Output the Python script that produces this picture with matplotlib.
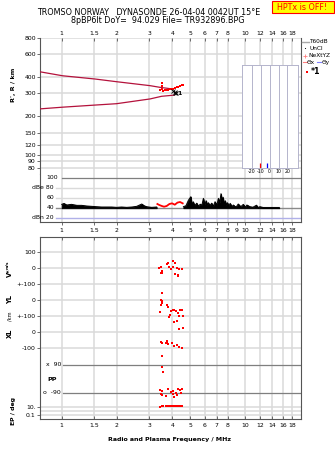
import numpy as np
import matplotlib
matplotlib.use("Agg")
import matplotlib.pyplot as plt
from matplotlib import transforms as mtransforms
from matplotlib.patches import Rectangle
from matplotlib.lines import Line2D

plt.rcParams['font.family'] = ['DejaVu Sans']

W, H, DPI = 335, 451, 100

# ---------------- data ----------------
freq_ticks = [1, 1.5, 2, 3, 4, 5, 6, 7, 8, 10, 12, 14, 16, 18]
freq_ticks_db = [1, 1.5, 2, 3, 4, 5, 6, 7, 8, 9, 10, 12, 14, 16, 18]
F_MIN, F_MAX = 0.762, 20.1

height_ticks = [80, 90, 100, 120, 150, 200, 300, 400, 600, 800]

# model traces (virtual / real height)
upper_f = [0.76, 1.01, 1.52, 1.99, 3.03, 3.43, 4.04]
upper_h = [440, 410, 387, 369, 344, 334, 324]
lower_f = [0.76, 1.01, 1.52, 1.99, 3.03, 3.50, 4.10]
lower_h = [228, 235, 244, 250, 272, 285, 291]

# echoes
echo_f = [3.43, 3.51, 3.51, 3.51, 3.58, 3.66, 3.73, 3.81, 3.89, 3.97, 4.06, 4.14, 4.23, 4.32, 4.41, 4.50, 4.56]
echo_h = [318, 360, 345, 325, 315, 317, 318, 320, 322, 324, 325, 330, 334, 338, 342, 347, 351]
uncl_f = [4.03, 4.12, 4.20, 4.13]
uncl_h = [312, 308, 304, 300]

# amplitude (dB)
amp_f1 = [1.0, 1.03, 1.065, 1.13, 1.21, 1.285, 1.37, 1.46, 1.55, 1.65, 1.76, 1.87, 1.99,
          2.12, 2.26, 2.41, 2.56, 2.73, 2.81, 2.90, 3.09, 3.29]
amp_v1 = [46.7, 48.5, 45.4, 46.7, 44.7, 44.7, 43.4, 42.7, 42.0, 41.4, 41.4, 41.4, 40.7,
          41.4, 40.7, 41.4, 42.7, 47.4, 44.0, 42.0, 40.7, 41.4]
amp_f_red = [3.32, 3.40, 3.51, 3.61, 3.73, 3.86, 3.99, 4.13, 4.27, 4.41, 4.56]
amp_v_red = [47.4, 45.4, 43.4, 42.0, 43.4, 47.4, 48.7, 46.0, 50.2, 51.4, 48.7]
amp_f2 = [4.6, 4.75, 4.9, 5.05, 5.12, 5.2, 5.3, 5.44, 5.55, 5.68, 5.8, 5.91, 6.0, 6.12, 6.2,
          6.29, 6.4, 6.56, 6.7, 6.84, 7.0, 7.13, 7.25, 7.37, 7.47, 7.56, 7.67, 7.77, 7.88,
          7.99, 8.13, 8.27, 8.45, 8.6, 8.9, 9.15, 9.45, 9.75, 10.0, 10.2, 10.6, 11.0, 11.3,
          11.5, 11.7, 12.0, 12.5, 13.0, 14.0, 15.3]
amp_v2 = [42, 44, 55, 62, 46, 52, 44, 49, 43, 47, 45, 58.7, 46, 54, 45,
          50, 44, 49, 43, 52, 45, 58.7, 50, 68, 55, 61, 47, 54, 45,
          50, 43, 48.7, 42, 45.4, 41, 47.4, 42, 46.7, 41, 45.4, 42, 41, 43.4,
          45, 40.5, 42, 40.5, 40.5, 40.5, 40.5]

# velocity / location / polarisation
v_f = [3.40, 3.48, 3.51, 3.48, 3.53, 3.73, 3.78, 3.84, 4.06, 4.13, 4.03, 3.94, 4.23, 4.37, 4.54, 4.14, 4.29, 4.29]
v_ms = [-2, 8, -17, -33, -33, 25, 33, 8, 46, 33, 8, -8, 0, -8, -4, -36, -42, -50]

yl_f = [3.51, 3.48, 3.53, 3.46, 3.43, 3.53, 3.73, 3.78, 3.84, 3.88, 4.03, 4.10, 4.20, 4.30, 4.41, 4.52, 3.94, 4.35, 4.58]
yl_km = [46, 0, -4, -31, -73, -21, -31, -42, -104, -94, -62, -62, -71, -79, -62, -62, -71, -100, -100]

xl_f = [4.10, 4.26, 4.35, 4.56, 3.48, 3.53, 3.68, 3.76, 3.81, 3.97, 4.10, 4.27, 4.37, 4.50, 3.73]
xl_km = [64, 71, 19, 25, -61, -71, -71, -61, -75, -71, -88, -81, -92, -102, -54]

ep_f = [3.51, 3.52, 3.55, 3.43, 3.51, 3.48, 3.53, 3.71, 3.81, 3.94, 4.06, 4.20, 4.32, 4.41, 4.54, 4.03, 4.27, 4.10, 4.45]
ep_deg = [150, 79, 43, -71, -75, -96, -103, -109, -66, -82, -75, -88, -66, -71, -66, -96, -103, -118, -92]

pp_f = [3.43, 3.51, 3.57, 3.68, 3.78, 3.89, 3.99, 4.10, 4.20, 4.30, 4.41, 4.52]
pp_val = [10, 13, 13, 13, 14, 13, 12, 13, 14, 16, 13, 13]

tilt_x, tilt_y = -11.0, -3.5

# ---------------- styling ----------------
GRID = '#dadada'
SPINE = '#555555'
DARK = '#7f7f7f'
RED = '#ff0000'
TRACE = '#b4123c'
TS = 4.4

fig = plt.figure(figsize=(W / DPI, H / DPI), dpi=DPI)


def rect(x0, y0, x1, y1):
    return [x0 / W, 1 - y1 / H, (x1 - x0) / W, (y1 - y0) / H]


def ftext(x, y, s, **kw):
    kw.setdefault('fontsize', TS)
    kw.setdefault('va', 'center')
    return fig.text(x / W, 1 - y / H, s, **kw)


def fmt(v):
    return ('%g' % v)


def freq_axis(ax, ticks):
    ax.set_xscale('log')
    ax.set_xlim(F_MIN, F_MAX)
    ax.set_xticks(ticks)
    ax.set_xticklabels([fmt(t) for t in ticks])
    ax.xaxis.set_minor_locator(matplotlib.ticker.NullLocator())
    for t in freq_ticks:
        ax.axvline(t, color=GRID, lw=1.1, zorder=0)
    for s in ax.spines.values():
        s.set_color(SPINE)
        s.set_linewidth(0.8)


# ---------------- height panel ----------------
ax_r = fig.add_axes(rect(40, 38, 301, 174))
freq_axis(ax_r, freq_ticks)
ax_r.set_yscale('log')
ax_r.set_ylim(72, 800)
ax_r.set_yticks(height_ticks)
ax_r.set_yticklabels([str(h) for h in height_ticks])
ax_r.yaxis.set_minor_locator(matplotlib.ticker.NullLocator())
for h in height_ticks:
    ax_r.axhline(h, color=GRID, lw=1.1, zorder=0)
ax_r.spines['top'].set_visible(False)
ax_r.spines['bottom'].set_visible(False)
ax_r.tick_params(axis='x', top=True, bottom=False, labeltop=True, labelbottom=False,
                 direction='in', length=2.5, width=0.6, color=SPINE, pad=1.5, labelsize=TS)
ax_r.tick_params(axis='y', direction='out', length=2, width=0.6, color=SPINE, pad=1, labelsize=TS)

ax_r.plot(upper_f, upper_h, color=TRACE, lw=0.9, zorder=3)
ax_r.plot(lower_f, lower_h, color=TRACE, lw=0.9, zorder=3)
ax_r.plot(echo_f, echo_h, 's', color=RED, ms=1.5, mew=0, zorder=4)
ax_r.plot(uncl_f, uncl_h, 'x', color='black', ms=2.2, mew=0.6, zorder=5)
ax_r.annotate('1', (uncl_f[0], uncl_h[0]), xytext=(3, -2), textcoords='offset points',
              fontsize=4.5, fontweight='bold', va='center')

# tilt inset
ax_t = fig.add_axes(rect(241.7, 65, 297.7, 168.3))
ax_t.set_facecolor('white')
ax_t.set_xlim(-31.5, 31.5)
ax_t.set_ylim(0, 1)
for s in ax_t.spines.values():
    s.set_color('#b4b4cc')
    s.set_linewidth(0.7)
for t in [-20, -10, 0, 10, 20]:
    ax_t.axvline(t, color='#b4b4cc', lw=0.7)
ax_t.set_xticks([-20, -10, 0, 10, 20])
ax_t.set_xticklabels(['-20', '-10', '0', '10', '20'])
ax_t.set_yticks([])
ax_t.tick_params(axis='x', length=0, pad=0.6, labelsize=3.4)
ax_t.set_xlabel('Tilt / deg', fontsize=3.4, labelpad=0.2)
ax_t.vlines([tilt_x], 0, 0.05, color=RED, lw=0.9)
ax_t.vlines([tilt_y], 0, 0.05, color='#0000ff', lw=0.9)

# ---------------- amplitude panel ----------------
ax_db = fig.add_axes(rect(40, 174, 301, 222))
freq_axis(ax_db, freq_ticks_db)
ax_db.set_ylim(11.4, 107.4)
ax_db.set_yticks([])
ax_db.spines['top'].set_visible(False)
ax_db.tick_params(axis='x', direction='out', length=2.5, width=0.6, color=SPINE, pad=1.5, labelsize=TS)
x_in = (56 - 40) / 261
for lvl, c in [(80, GRID), (60, GRID), (40, '#8a8a8a'), (20, '#b0b0e8')]:
    ax_db.axhline(lvl, xmin=x_in, color=c, lw=1.0, zorder=0.5)
ax_db.axhline(100, xmin=(62 - 40) / 261, color=DARK, lw=0.9, zorder=0.5)
blend = mtransforms.blended_transform_factory(ax_db.transAxes, ax_db.transData)
for lvl, lab, xr in [(100, '100', 58), (80, 'dBe 80', 54), (60, '60', 54), (40, '40', 54), (20, 'dBn 20', 54)]:
    ax_db.text((xr - 40) / 261, lvl, lab, transform=blend, ha='right', va='center', fontsize=TS)

ax_db.fill_between(amp_f1, 39, amp_v1, color='black', lw=0.6, zorder=3)
ax_db.plot(amp_f1, amp_v1, color='black', lw=0.7, zorder=3)
ax_db.fill_between(amp_f2, 39, amp_v2, color='black', lw=0.6, zorder=3)
ax_db.plot(amp_f2, amp_v2, color='black', lw=0.7, zorder=3)
ax_db.plot(amp_f_red, amp_v_red, color=RED, lw=1.3, zorder=4)

# ---------------- drift / location / polarisation panel ----------------
ax_l = fig.add_axes(rect(40, 237, 301, 419))
freq_axis(ax_l, freq_ticks)
ax_l.set_ylim(0, 182)

V0, YL0, XL0, K = 151, 119, 87, 0.16
EP0, EPK = 40, 14 / 90
PP0, PPK = 8.15, 4.15


def u_pp(p):
    return PP0 + PPK * np.log10(np.asarray(p, dtype=float))


left_ticks = [V0 + K * 100, V0, V0 - K * 100, YL0, YL0 - K * 100, XL0, XL0 - K * 100,
              float(u_pp(10)), float(u_pp(0.1))]
left_labels = ['100', '0', '+-100', '0', '+-100', '0', '-100', '10.', '0.1']
ax_l.set_yticks(left_ticks)
ax_l.set_yticklabels(left_labels)
for u in left_ticks + [float(u_pp(1))]:
    ax_l.axhline(u, color=GRID, lw=1.1, zorder=0)
ax_l.tick_params(axis='y', direction='out', length=2, width=0.6, color=SPINE, pad=1, labelsize=TS)
ax_l.tick_params(axis='x', top=True, bottom=True, direction='in', length=2.5, width=0.6,
                 color=SPINE, pad=3, labelsize=TS)

for ep, lab in [(90, 'x  90'), (-90, 'o  -90')]:
    u = EP0 + EPK * ep
    ax_l.axhline(u, xmin=(63 - 40) / 261, color=DARK, lw=0.9, zorder=0.5)
    bl = mtransforms.blended_transform_factory(ax_l.transAxes, ax_l.transData)
    ax_l.text((61 - 40) / 261, u, lab, transform=bl, ha='right', va='center', fontsize=TS)

ms = 1.6
ax_l.plot(v_f, V0 + K * np.array(v_ms), 's', color=RED, ms=ms, mew=0, zorder=4)
ax_l.plot(yl_f, YL0 + K * np.array(yl_km), 's', color=RED, ms=ms, mew=0, zorder=4)
ax_l.plot(xl_f, XL0 + K * np.array(xl_km), 's', color=RED, ms=ms, mew=0, zorder=4)
ax_l.plot(ep_f, EP0 + EPK * np.array(ep_deg), 's', color=RED, ms=ms, mew=0, zorder=4)
ax_l.plot(pp_f, u_pp(pp_val), 's', color=RED, ms=ms, mew=0, zorder=4)

# ---------------- texts ----------------
ftext(149, 12.7, 'TROMSO NORWAY   DYNASONDE 26-04-04 0042UT 15°E', ha='center', fontsize=5.8)
ftext(157.5, 20.3, '8pBP6It DoY=  94.029 File= TR932896.BPG', ha='center', fontsize=5.8)

fig.add_artist(Rectangle((271.5 / W, 1 - 13 / H), 62 / W, 11.5 / H, transform=fig.transFigure,
                         facecolor='#ffff00', edgecolor=RED, lw=0.8))
ftext(302.5, 7.3, 'HPTx is OFF!', ha='center', fontsize=5.8, color=RED)

ftext(14, 85, "R', R / km", rotation=90, ha='center', fontsize=4.6, fontweight='bold')
ftext(10, 273, 'V*', rotation=90, ha='center', fontsize=4.8, fontweight='bold')
ftext(8, 264.5, 'm/s', rotation=90, ha='center', fontsize=3.0, fontweight='bold')
ftext(10, 299, 'YL', rotation=90, ha='center', fontsize=4.8, fontweight='bold')
ftext(10.5, 316, '/km', rotation=90, ha='center', fontsize=3.6)
ftext(10, 333, 'XL', rotation=90, ha='center', fontsize=4.8, fontweight='bold')
ftext(13.5, 411, 'EP / deg', rotation=90, ha='center', fontsize=4.4, fontweight='bold')
ftext(47, 379.5, 'PP', ha='left', fontsize=4.6, fontweight='bold')
ftext(170, 439, 'Radio and Plasma Frequency / MHz', ha='center', fontsize=4.5, fontweight='bold')

# legend
LS = 4.2


def fline(x0, x1, y, color, **kw):
    fig.add_artist(Line2D([x0 / W, x1 / W], [1 - y / H, 1 - y / H], transform=fig.transFigure,
                          color=color, **kw))


def fmark(x, y, marker, color, **kw):
    fig.add_artist(Line2D([x / W], [1 - y / H], transform=fig.transFigure, marker=marker,
                          color=color, linestyle='none', **kw))


fline(302, 308.5, 41.7, '#a8a8a8', lw=1.0)
ftext(309.5, 41.7, 'T60dB', fontsize=LS)
fmark(305, 48.3, 'o', 'black', ms=0.8, mew=0)
ftext(309.5, 48.3, 'UnCl', fontsize=LS)
fmark(305, 55.7, '+', '#ff8080', ms=2.5, mew=0.6)
ftext(308, 55.7, 'NeXtYZ', fontsize=LS)
fline(302.5, 306.5, 62.3, '#ff8080', lw=0.8)
ftext(307, 62.3, 'Θx', fontsize=LS)
fline(317, 321, 62.3, '#8080ff', lw=0.8)
ftext(321.5, 62.3, 'Θy', fontsize=LS)
fmark(306.5, 71.8, 's', RED, ms=1.8, mew=0)
ftext(311, 72, '*1', fontsize=5.6, fontweight='bold')

fig.savefig('out.png', dpi=DPI)
